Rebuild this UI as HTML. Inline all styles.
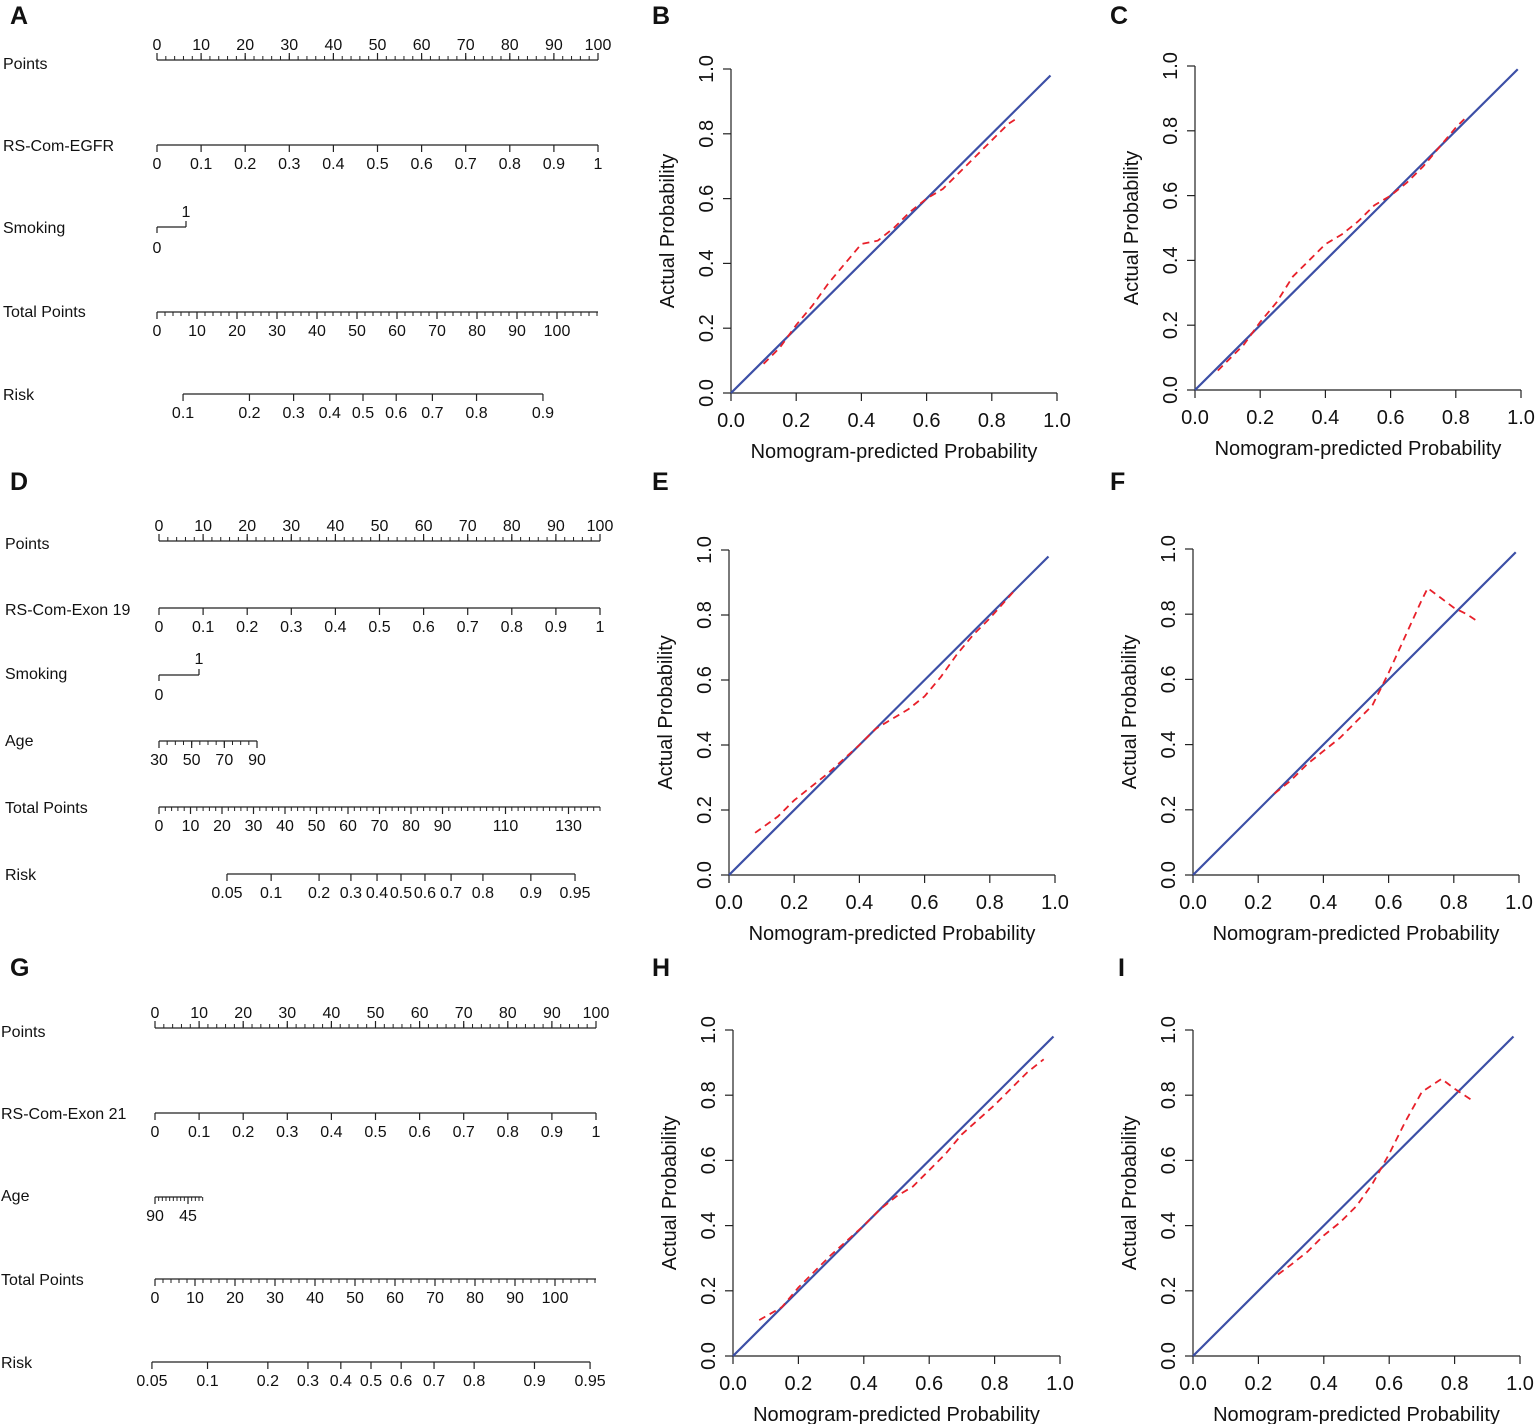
<!DOCTYPE html>
<html><head><meta charset="utf-8"><style>
body{margin:0;background:#fff}
svg{display:block;font-family:"Liberation Sans",Arial,sans-serif}
</style></head><body>
<svg id="fig" width="1536" height="1424" viewBox="0 0 1536 1424"></svg>
<script>
// ---------- calibration data ----------
const calBx=[0.1,0.15,0.2,0.25,0.3,0.35,0.4,0.45,0.5,0.55,0.6,0.65,0.7,0.75,0.8,0.85,0.88];
const calBy=[0.09,0.14,0.21,0.27,0.34,0.40,0.46,0.47,0.51,0.56,0.60,0.63,0.68,0.73,0.78,0.83,0.85];
const calCx=[0.07,0.15,0.2,0.25,0.3,0.35,0.4,0.45,0.5,0.55,0.6,0.65,0.7,0.75,0.8,0.83];
const calCy=[0.06,0.14,0.21,0.27,0.35,0.40,0.45,0.48,0.52,0.57,0.60,0.64,0.69,0.75,0.81,0.84];
const calEx=[0.08,0.15,0.2,0.3,0.4,0.45,0.5,0.55,0.6,0.65,0.7,0.75,0.8,0.88];
const calEy=[0.13,0.18,0.23,0.31,0.40,0.45,0.48,0.51,0.55,0.61,0.68,0.74,0.79,0.88];
const calFx=[0.25,0.3,0.35,0.4,0.45,0.5,0.55,0.6,0.65,0.7,0.72,0.76,0.8,0.84,0.87];
const calFy=[0.25,0.29,0.34,0.38,0.42,0.47,0.52,0.62,0.73,0.84,0.88,0.85,0.82,0.80,0.78];
const calHx=[0.08,0.15,0.2,0.3,0.4,0.45,0.5,0.55,0.6,0.65,0.7,0.8,0.9,0.95];
const calHy=[0.11,0.15,0.21,0.31,0.40,0.45,0.49,0.52,0.57,0.62,0.68,0.77,0.87,0.91];
const calIx=[0.26,0.3,0.35,0.4,0.45,0.5,0.55,0.6,0.65,0.7,0.76,0.8,0.83,0.86];
const calIy=[0.25,0.28,0.32,0.37,0.41,0.46,0.53,0.62,0.72,0.81,0.85,0.82,0.80,0.78];
const idealEnd=[0.98,0.99,0.98,0.99,0.98,0.98];
const calTicks=["0.0","0.2","0.4","0.6","0.8","1.0"];
const riskA=[0.1,0.2,0.3,0.4,0.5,0.6,0.7,0.8,0.9];
const riskD=[0.05,0.1,0.2,0.3,0.4,0.5,0.6,0.7,0.8,0.9,0.95];
const riskG=[0.05,0.1,0.2,0.3,0.4,0.5,0.6,0.7,0.8,0.9,0.95];
const pointsTicks=[0,10,20,30,40,50,60,70,80,90,100];
const rsTicks=[0,0.1,0.2,0.3,0.4,0.5,0.6,0.7,0.8,0.9,1];
const totalA=[0,10,20,30,40,50,60,70,80,90,100];
const totalD=[0,10,20,30,40,50,60,70,80,90,110,130];
const totalG=[0,10,20,30,40,50,60,70,80,90,100];

const NS="http://www.w3.org/2000/svg";
const svg=document.getElementById('fig');
function el(tag,attrs,parent){const e=document.createElementNS(NS,tag);for(const k in attrs)e.setAttribute(k,attrs[k]);(parent||svg).appendChild(e);return e;}
function txt(x,y,s,size,parent,anchor,extra){const t=el('text',Object.assign({x:x,y:y,'font-size':size,'text-anchor':anchor||'middle',fill:'#111'},extra||{}),parent);t.textContent=s;return t;}
function line(x1,y1,x2,y2,g,w){return el('line',{x1:x1,y1:y1,x2:x2,y2:y2,stroke:'#222','stroke-width':w||1.2},g);}

const letters=[["A",10,24],["B",652,24],["C",1110,24],["D",10,490],["E",652,490],["F",1110,490],["G",10,976],["H",652,976],["I",1118,976]];
letters.forEach(l=>{const t=txt(l[1],l[2],l[0],25,svg,'start',{'font-weight':'bold'});

});

function cal(name,x0,x1,y0,y1,xs,ys,ideal){
  const g=el('g',{});
  
  
  const sx=v=>x0+(x1-x0)*v, sy=v=>y0+(y1-y0)*v;
  line(x0,y0,x0,y1,g); line(x0,y0,x1,y0,g);
  calTicks.forEach((t,i)=>{const v=i/5;
    line(sx(v),y0,sx(v),y0+8,g); line(x0,sy(v),x0-8,sy(v),g);
    const xt=txt(sx(v),y0+34,t,20,g);
    
    
    const yt=txt(x0-18,sy(v),t,20,g,'middle',{transform:`rotate(-90 ${x0-18} ${sy(v)})`});
    
    });
  const xl=txt((x0+x1)/2,y0+65,"Nomogram-predicted Probability",20,g);
  
  
  const yl=txt(x0-57,(y0+y1)/2,"Actual Probability",20,g,'middle',{transform:`rotate(-90 ${x0-57} ${(y0+y1)/2})`});
  
  
  const il=el('line',{x1:sx(0),y1:sy(0),x2:sx(ideal),y2:sy(ideal),stroke:'#3c4fa6','stroke-width':2.2},g);
  
  
  const pts=xs.map((v,i)=>sx(v).toFixed(1)+','+sy(ys[i]).toFixed(1)).join(' ');
  const pl=el('polyline',{points:pts,fill:'none',stroke:'#e8202a','stroke-width':1.8,'stroke-dasharray':'7,5'},g);
  
  
}
cal('b',731,1057,393,69,calBx,calBy,idealEnd[0]);
cal('c',1195,1521,390,66,calCx,calCy,idealEnd[1]);
cal('e',729,1055,875,550,calEx,calEy,idealEnd[2]);
cal('f',1193,1519,875,549,calFx,calFy,idealEnd[3]);
cal('h',733,1060,1356,1030,calHx,calHy,idealEnd[4]);
cal('i',1193,1520,1356,1030,calIx,calIy,idealEnd[5]);

function rowLabel(x,y,s,g){const t=txt(x,y+6,s,16,g,'start');

}
function scaleAxis(g,y,xa,xb,ticks,pos,above,minorStep,minMax,lblFmt){
  line(xa,y,xb,y,g);
  if(minorStep){for(let v=minMax[0];v<=minMax[1]+1e-9;v+=minorStep){line(pos(v),y,pos(v),above?y-4:y+4,g,1);}}
  ticks.forEach(v=>{const x=pos(v);line(x,y,x,above?y-7:y+7,g);
    const t=txt(x,above?y-10:y+24,lblFmt?lblFmt(v):String(v),16,g);
    
    });
}
const logit=p=>Math.log(p/(1-p));
function nomo(name,rows){
  const g=el('g',{});
  
  
  rows(g);
}
nomo('a',g=>{
  const P=v=>157+v*4.41;
  rowLabel(3,63,"Points",g); scaleAxis(g,60,157,598,pointsTicks,P,true,2,[0,100]);
  rowLabel(3,145,"RS-Com-EGFR",g); scaleAxis(g,145,157,598,rsTicks,v=>157+v*441,false);
  rowLabel(3,227,"Smoking",g); line(157,227,186,227,g); line(157,227,157,233,g); line(186,227,186,221,g);
  txt(186,217,"1",16,g); txt(157,253,"0",16,g);
  const T=v=>157+v*4.0;
  rowLabel(3,311,"Total Points",g); scaleAxis(g,312,157,598,totalA,T,false,2,[0,110]);
  const R=p=>363+81.9*logit(p);
  rowLabel(3,394,"Risk",g); scaleAxis(g,394,R(0.1),R(0.9),riskA,R,false);
});
nomo('d',g=>{
  const P=v=>159+v*4.41;
  rowLabel(5,543,"Points",g); scaleAxis(g,541,159,600,pointsTicks,P,true,2,[0,100]);
  rowLabel(5,609,"RS-Com-Exon 19",g); scaleAxis(g,608,159,600,rsTicks,v=>159+v*441,false);
  rowLabel(5,673,"Smoking",g); line(159,675,199,675,g); line(159,675,159,681,g); line(199,675,199,669,g);
  txt(199,664,"1",16,g); txt(159,700,"0",16,g);
  const A=v=>159+(v-30)*98/60;
  rowLabel(5,740,"Age",g); scaleAxis(g,741,159,257,[30,50,70,90],A,false,5,[30,90]);
  const T=v=>159+v*3.15;
  rowLabel(5,807,"Total Points",g); scaleAxis(g,807,159,600,totalD,T,false,2,[0,140]);
  const R=p=>401+59.1*logit(p);
  rowLabel(5,874,"Risk",g); scaleAxis(g,874,R(0.05),R(0.95),riskD,R,false);
});
nomo('g',g=>{
  const P=v=>155+v*4.41;
  rowLabel(1,1031,"Points",g); scaleAxis(g,1028,155,596,pointsTicks,P,true,2,[0,100]);
  rowLabel(1,1113,"RS-Com-Exon 21",g); scaleAxis(g,1113,155,596,rsTicks,v=>155+v*441,false);
  const A=v=>155+(90-v)*33/45;
  rowLabel(1,1195,"Age",g); scaleAxis(g,1197,155,202,[90,45],A,false,5,[25,90]);
  const T=v=>155+v*4.0;
  rowLabel(1,1279,"Total Points",g); scaleAxis(g,1279,155,596,totalG,T,false,2,[0,110]);
  const R=p=>371+74.4*logit(p);
  rowLabel(1,1362,"Risk",g); scaleAxis(g,1362,R(0.05),R(0.95),riskG,R,false);
});
</script>
</body></html>
